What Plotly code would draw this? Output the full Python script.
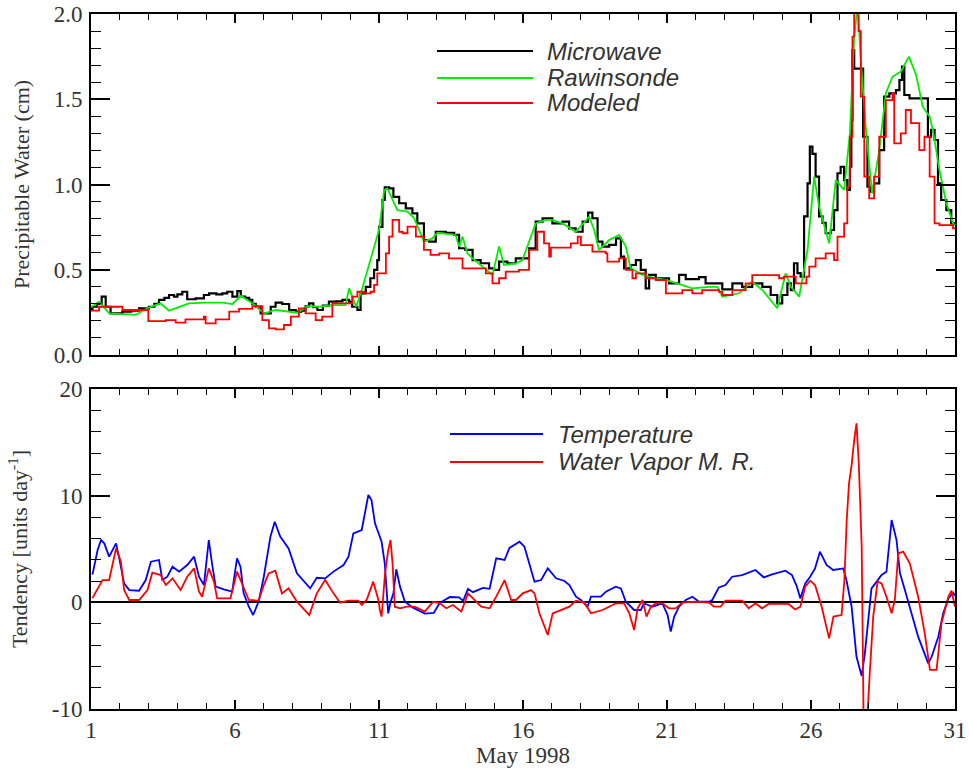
import plotly.graph_objects as go

# ---------------- data (days of May 1998) ----------------
mw_day = [1.0,1.05,1.2,1.37,1.51,1.68,2.09,2.4,2.67,3.01,3.2,3.36,3.55,3.71,3.88,4.0,4.17,4.34,4.63,4.92,5.1,5.35,5.56,5.73,5.91,6.08,6.2,6.35,6.49,6.6,6.72,6.89,7.07,7.24,7.41,7.64,7.88,8.11,8.3,8.45,8.57,8.72,8.86,9.05,9.26,9.5,9.73,9.96,10.07,10.25,10.36,10.54,10.7,10.83,10.94,11.0,11.12,11.2,11.35,11.5,11.7,11.93,12.16,12.33,12.56,12.74,12.97,13.32,13.61,13.78,14.0,14.25,14.53,14.82,15.0,15.17,15.46,15.75,15.98,16.21,16.44,16.68,17.02,17.37,17.6,17.83,18.07,18.26,18.41,18.59,18.76,18.99,19.23,19.4,19.51,19.74,19.92,20.09,20.26,20.38,20.61,20.84,21.07,21.42,21.65,22.11,22.34,22.69,22.92,23.27,23.61,23.96,24.31,24.6,24.83,25.0,25.18,25.3,25.41,25.53,25.64,25.76,25.88,25.96,26.05,26.16,26.28,26.4,26.51,26.69,26.8,26.92,27.03,27.15,27.26,27.35,27.4,27.44,27.5,27.73,27.81,27.96,28.08,28.19,28.37,28.54,28.72,28.95,29.07,29.16,29.24,29.42,30.0,30.06,30.17,30.29,30.41,30.52,30.7,30.87,31.0]
mw_val = [0.27,0.283,0.30,0.342,0.283,0.244,0.254,0.26,0.274,0.283,0.30,0.323,0.335,0.352,0.342,0.355,0.371,0.327,0.332,0.352,0.362,0.355,0.362,0.371,0.342,0.375,0.342,0.335,0.323,0.30,0.283,0.244,0.244,0.283,0.307,0.299,0.264,0.254,0.26,0.285,0.303,0.28,0.264,0.29,0.313,0.315,0.323,0.313,0.283,0.264,0.362,0.40,0.45,0.499,0.557,0.752,0.909,0.983,0.977,0.928,0.89,0.86,0.831,0.772,0.674,0.665,0.723,0.717,0.704,0.626,0.616,0.557,0.538,0.508,0.499,0.548,0.538,0.567,0.567,0.626,0.782,0.802,0.772,0.782,0.743,0.723,0.782,0.835,0.802,0.665,0.636,0.646,0.684,0.577,0.508,0.528,0.557,0.499,0.391,0.47,0.45,0.45,0.42,0.47,0.445,0.457,0.42,0.42,0.385,0.42,0.40,0.42,0.40,0.352,0.303,0.352,0.42,0.381,0.538,0.48,0.46,0.813,1.007,1.222,1.18,1.046,0.813,0.775,0.714,0.733,0.85,1.066,1.104,1.026,0.968,1.104,1.378,1.789,1.68,1.68,1.28,0.987,0.958,1.007,1.202,1.515,1.535,1.554,1.613,1.691,1.525,1.505,1.505,1.28,1.32,1.261,1.007,0.909,0.85,0.772,0.76]

rw_day = [1.0,1.28,1.63,2.55,2.95,3.41,3.71,4.05,4.4,4.98,5.56,5.91,6.2,6.6,7.01,7.41,7.88,8.17,8.51,8.92,9.38,9.84,9.96,10.13,10.21,10.42,10.71,11.0,11.18,11.29,11.64,11.99,12.22,12.56,12.85,13.03,13.66,13.78,13.9,14.07,14.25,14.53,14.94,15.17,15.34,15.75,15.98,16.44,16.79,17.02,17.37,17.83,18.3,18.47,18.64,18.99,19.34,19.57,19.74,20.15,20.61,20.96,21.53,21.88,22.46,22.75,22.92,23.16,23.5,23.96,24.31,24.83,25.12,25.3,25.59,25.88,26.11,26.28,26.63,26.86,27.15,27.35,27.5,27.62,27.73,27.9,28.12,28.37,28.6,28.83,29.12,29.4,29.65,29.88,30.12,30.23,30.46,30.7,30.93,31.0]
rw_val = [0.28,0.313,0.244,0.235,0.274,0.303,0.26,0.283,0.303,0.307,0.307,0.299,0.346,0.303,0.244,0.264,0.254,0.248,0.287,0.283,0.293,0.293,0.391,0.313,0.283,0.391,0.557,0.733,0.967,0.977,0.85,0.841,0.802,0.665,0.684,0.717,0.704,0.636,0.694,0.596,0.567,0.528,0.469,0.636,0.528,0.538,0.557,0.772,0.792,0.792,0.772,0.723,0.811,0.733,0.616,0.674,0.704,0.636,0.508,0.47,0.45,0.44,0.41,0.391,0.40,0.40,0.342,0.352,0.362,0.43,0.381,0.274,0.479,0.40,0.342,0.616,1.046,0.87,0.655,1.026,0.968,1.30,1.867,2.05,1.73,1.339,0.948,1.202,1.535,1.632,1.662,1.75,1.642,1.456,1.398,1.32,1.085,0.89,0.772,0.76]

md_day = [1.0,1.28,1.98,2.09,2.95,2.99,3.6,3.94,4.28,4.92,4.98,5.33,5.8,6.14,6.6,6.89,6.95,7.18,7.41,7.7,7.94,8.22,8.45,8.8,9.03,9.38,9.84,10.07,10.25,10.48,10.71,10.83,10.94,11.12,11.24,11.35,11.47,11.7,11.82,11.99,12.28,12.56,12.79,13.09,13.43,13.9,14.36,14.71,14.94,15.17,15.4,15.86,16.21,16.5,16.73,16.91,16.97,17.37,17.66,17.9,18.01,18.41,18.87,18.93,19.34,19.57,19.8,19.92,20.26,20.61,20.96,21.53,21.88,22.22,22.81,22.92,23.27,23.73,23.96,24.31,24.89,25.06,25.47,25.7,25.84,25.94,26.16,26.51,26.8,26.92,27.15,27.26,27.35,27.44,27.5,27.65,27.73,27.85,28.02,28.19,28.37,28.6,28.83,28.89,29.12,29.29,29.47,29.76,29.94,30.12,30.29,30.46,30.93,31.0]
md_val = [0.26,0.283,0.283,0.264,0.264,0.199,0.205,0.19,0.209,0.225,0.186,0.209,0.254,0.27,0.287,0.287,0.205,0.156,0.15,0.176,0.225,0.274,0.244,0.205,0.225,0.303,0.303,0.342,0.371,0.362,0.371,0.411,0.479,0.479,0.596,0.694,0.792,0.723,0.714,0.753,0.694,0.616,0.587,0.596,0.567,0.508,0.508,0.479,0.42,0.45,0.489,0.499,0.616,0.723,0.655,0.577,0.63,0.63,0.655,0.694,0.645,0.606,0.596,0.548,0.567,0.499,0.45,0.479,0.45,0.44,0.362,0.381,0.362,0.381,0.37,0.352,0.381,0.42,0.469,0.469,0.45,0.46,0.42,0.42,0.46,0.518,0.567,0.596,0.557,0.694,0.772,0.987,1.28,1.867,2.05,1.90,1.515,1.046,0.919,1.046,1.28,1.495,1.535,1.241,1.30,1.437,1.36,1.202,1.28,1.046,0.772,0.762,0.743,0.74]

t_day = [1.05,1.23,1.35,1.46,1.63,1.87,1.98,2.15,2.33,2.67,2.9,3.08,3.36,3.48,3.65,3.83,4.06,4.34,4.58,4.75,4.92,5.09,5.21,5.33,5.61,5.9,6.07,6.19,6.3,6.48,6.63,6.82,7.0,7.23,7.38,7.57,7.86,8.15,8.61,8.84,9.13,9.42,9.77,9.94,10.11,10.4,10.63,10.74,10.86,11.09,11.2,11.26,11.32,11.4,11.5,11.6,11.73,11.9,12.18,12.59,12.9,13.11,13.46,13.78,13.92,14.09,14.26,14.61,14.84,15.07,15.36,15.53,15.88,16.05,16.4,16.63,16.86,17.15,17.44,17.61,17.84,18.01,18.24,18.36,18.7,18.88,19.22,19.4,19.57,19.86,20.09,20.2,20.49,20.84,21.02,21.13,21.25,21.42,21.65,21.88,22.11,22.46,22.57,22.8,23.03,23.26,23.61,24.07,24.36,24.65,25.11,25.34,25.51,25.63,25.8,25.97,26.14,26.31,26.54,26.77,27.12,27.23,27.41,27.58,27.76,27.87,27.99,28.1,28.28,28.45,28.62,28.8,28.97,29.09,29.26,29.49,29.72,30.07,30.19,30.42,30.59,30.77,30.94,31.0]
t_val = [2.6,4.9,5.84,5.53,4.28,5.53,4.12,1.78,1.15,1.09,2.09,3.81,3.97,2.09,2.40,3.34,2.87,3.5,4.28,2.40,1.62,5.84,3.5,1.47,1.22,1.0,4.12,3.34,0.84,-0.41,-1.19,0.06,2.40,6.16,7.56,6.16,5.06,2.72,1.31,2.3,2.25,2.88,3.5,4.28,6.47,6.78,10.06,9.59,7.40,5.68,3.65,1.2,-1.03,0.0,0.84,3.1,1.47,0.06,-0.5,-1.06,-1.0,-0.06,0.5,0.47,0.14,1.26,0.95,1.36,1.27,4.12,3.97,5.1,5.68,5.22,1.94,2.09,3.18,2.25,2.0,1.62,0.53,0.22,-0.41,0.53,0.53,1.0,1.47,1.31,0.06,-0.72,-0.72,-0.09,-0.41,-0.09,-1.19,-2.75,-1.34,-0.41,0.22,0.53,0.06,0.06,0.22,1.4,1.62,2.40,2.56,3.03,2.34,2.62,2.97,2.56,1.47,0.37,1.78,2.40,3.18,4.75,3.5,3.03,3.18,2.09,-0.41,-5.1,-6.9,-4.78,-1.66,1.31,1.94,2.56,2.87,7.72,5.84,2.72,1.15,-1.03,-3.22,-5.72,-5.1,-3.22,-1.03,0.37,0.9,0.6]

wv_day = [1.05,1.4,1.63,1.87,2.04,2.15,2.33,2.67,2.96,3.13,3.42,3.6,3.83,4.11,4.34,4.58,4.75,4.86,5.09,5.27,5.38,5.84,6.07,6.3,6.48,6.82,7.0,7.17,7.4,7.63,7.86,8.15,8.58,8.84,9.13,9.42,9.65,9.94,10.28,10.4,10.57,10.8,10.98,11.03,11.09,11.21,11.32,11.4,11.47,11.55,11.73,11.96,12.24,12.59,12.88,13.11,13.34,13.57,13.86,14.09,14.26,14.55,14.84,15.07,15.36,15.59,15.76,15.99,16.28,16.4,16.57,16.86,17.03,17.32,17.61,17.84,18.13,18.36,18.76,18.99,19.22,19.51,19.69,19.86,19.98,20.15,20.29,20.44,20.61,20.84,21.07,21.3,21.53,21.99,22.46,22.63,22.86,23.03,23.61,23.84,24.07,24.3,24.53,25.22,25.45,25.63,25.8,25.97,26.14,26.37,26.63,26.78,27.06,27.16,27.24,27.32,27.41,27.5,27.58,27.66,27.76,27.83,27.93,28.04,28.16,28.31,28.45,28.62,28.8,28.91,29.03,29.2,29.43,29.72,29.95,30.13,30.36,30.53,30.77,30.88,31.0]
wv_val = [0.4,2.09,2.09,5.06,3.81,1.15,0.22,0.22,1.15,2.78,2.56,1.62,2.25,1.15,2.40,3.18,1.0,0.53,3.18,1.94,0.37,0.37,2.87,1.47,0.22,0.16,1.62,2.72,2.97,0.84,1.31,0.06,-1.19,0.84,2.09,0.84,-0.03,0.16,0.16,-0.25,0.22,1.94,0.22,-0.72,-1.34,2.72,4.9,5.84,3.65,-0.41,-0.56,-0.41,-0.41,-0.87,0.06,-0.09,-0.56,-0.25,-0.87,0.84,0.37,-0.41,-0.56,0.53,2.09,0.22,0.22,0.84,1.15,0.84,-1.03,-3.06,-1.03,-0.72,-0.41,0.16,-0.03,-1.03,-0.72,-0.41,-0.09,-0.09,-1.03,-2.59,-0.56,0.22,-1.34,-0.41,-0.09,-0.09,-0.56,-0.56,-0.03,0.06,-0.03,-0.41,-0.41,0.16,0.16,-0.56,-0.09,-0.56,-0.15,-0.15,-0.66,-0.41,1.47,2.03,1.62,-0.41,-3.38,-1.34,-1.19,2.09,7.72,11.15,12.87,15.21,16.78,13.03,5.22,-12.0,-12.0,-6.66,-1.34,1.94,1.78,0.53,-1.03,0.22,4.59,4.75,3.65,0.53,-2.9,-6.34,-6.34,-1.97,0.53,1.09,-0.41]

top_series = ["Microwave", "Rawinsonde", "Modeled"]
bottom_series = ["Temperature", "Water Vapor M. R."]
x_ticks = [1, 6, 11, 16, 21, 26, 31]
top_ticks = [0.0, 0.5, 1.0, 1.5, 2.0]
bottom_ticks = [-10, 0, 10, 20]

# ---------------- layout geometry ----------------
W, H = 969, 772
L, R, T, B = 91, 14, 14, 63
pw, ph = W - L - R, H - T - B

def px(xp):
    return (xp - L) / pw

def py(yp):
    return (H - B - yp) / ph

TXT = "#333333"
SERIF = "Liberation Serif, Times New Roman, serif"
SANS = "Liberation Sans, Arial, sans-serif"
FS = 23      # horizontal tick labels
FT = 22      # rotated axis titles
FL = 24      # legend text

fig = go.Figure()
fig.add_trace(go.Scatter(x=mw_day, y=mw_val, mode="lines", line=dict(color="black", width=2.2, shape="hv"),
                         xaxis="x", yaxis="y", name=top_series[0], showlegend=False))
fig.add_trace(go.Scatter(x=rw_day, y=rw_val, mode="lines", line=dict(color="#00ee00", width=1.8),
                         xaxis="x", yaxis="y", name=top_series[1], showlegend=False))
fig.add_trace(go.Scatter(x=md_day, y=md_val, mode="lines", line=dict(color="#ff0000", width=1.8, shape="hv"),
                         xaxis="x", yaxis="y", name=top_series[2], showlegend=False))
fig.add_trace(go.Scatter(x=t_day, y=t_val, mode="lines", line=dict(color="#0000ff", width=1.8),
                         xaxis="x2", yaxis="y2", name=bottom_series[0], showlegend=False))
fig.add_trace(go.Scatter(x=wv_day, y=wv_val, mode="lines", line=dict(color="#ff0000", width=1.8),
                         xaxis="x2", yaxis="y2", name=bottom_series[1], showlegend=False))

top_dom = [py(355), 1.0]
bot_dom = [0.0, py(389)]

xcommon = dict(range=[1, 31], showline=True, linecolor="black", linewidth=2, mirror="ticks",
               ticks="inside", ticklen=9, tickwidth=1.5, tickcolor="black", automargin=False,
               tickvals=x_ticks, showgrid=False, zeroline=False,
               minor=dict(ticks="inside", ticklen=6, tickwidth=1.2, tickcolor="black",
                          tickvals=list(range(1, 32))))

fig.update_layout(
    width=W, height=H, margin=dict(l=L, r=R, t=T, b=B, autoexpand=False),
    plot_bgcolor="white", paper_bgcolor="white",
    font=dict(family=SERIF, size=FS, color=TXT),
    xaxis=dict(**xcommon, anchor="y", showticklabels=False),
    yaxis=dict(domain=top_dom, range=[0, 2.0], showline=True, linecolor="black", linewidth=2,
               mirror="ticks", ticks="inside", ticklen=19, tickwidth=1.5, tickcolor="black",
               automargin=False,
               tickvals=top_ticks, ticktext=[f"{v:.1f}" for v in top_ticks],
               ticklabelstandoff=2, showgrid=False, zeroline=False,
               minor=dict(ticks="inside", ticklen=10, tickwidth=1.2, tickcolor="black",
                          tickvals=[i / 10 for i in range(0, 21)]),
               title=dict(text="Precipitable Water (cm)", standoff=18,
                          font=dict(family=SERIF, size=FT, color=TXT))),
    xaxis2=dict(**xcommon, anchor="y2", showticklabels=True,
                ticktext=[str(v) for v in x_ticks], ticklabelstandoff=-1,
                title=dict(text="May 1998", standoff=2, font=dict(family=SERIF, size=FS, color=TXT))),
    yaxis2=dict(domain=bot_dom, range=[-10, 20], anchor="x2", showline=True, linecolor="black", linewidth=2,
                mirror="ticks", ticks="inside", ticklen=19, tickwidth=1.5, tickcolor="black",
                automargin=False,
                tickvals=bottom_ticks, ticktext=[str(v) for v in bottom_ticks],
                ticklabelstandoff=2, showgrid=False,
                zeroline=True, zerolinecolor="black", zerolinewidth=2,
                minor=dict(ticks="inside", ticklen=10, tickwidth=1.2, tickcolor="black",
                           tickvals=list(range(-10, 21, 2))),
                title=dict(text="Tendency [units day<sup>-1</sup>]", standoff=18,
                           font=dict(family=SERIF, size=FT, color=TXT))),
)

# legends drawn manually
top_leg = [(top_series[0], "black", 51, 2.2), (top_series[1], "#00ee00", 78, 1.8), (top_series[2], "#ff0000", 103, 1.8)]
for name, col, yp, w in top_leg:
    fig.add_shape(type="line", xref="paper", yref="paper", x0=px(437), x1=px(533), y0=py(yp), y1=py(yp),
                  line=dict(color=col, width=w))
    fig.add_annotation(xref="paper", yref="paper", x=px(545), y=py(yp), text=f"<i>{name}</i>",
                       showarrow=False, xanchor="left", yanchor="middle",
                       font=dict(family=SANS, size=FL, color=TXT))
bot_leg = [(bottom_series[0], "#0000ff", 434), (bottom_series[1], "#ff0000", 462)]
for name, col, yp in bot_leg:
    fig.add_shape(type="line", xref="paper", yref="paper", x0=px(450), x1=px(543), y0=py(yp), y1=py(yp),
                  line=dict(color=col, width=1.8))
    fig.add_annotation(xref="paper", yref="paper", x=px(556), y=py(yp), text=f"<i>{name}</i>",
                       showarrow=False, xanchor="left", yanchor="middle",
                       font=dict(family=SANS, size=FL, color=TXT))

fig.write_html("out.html")
